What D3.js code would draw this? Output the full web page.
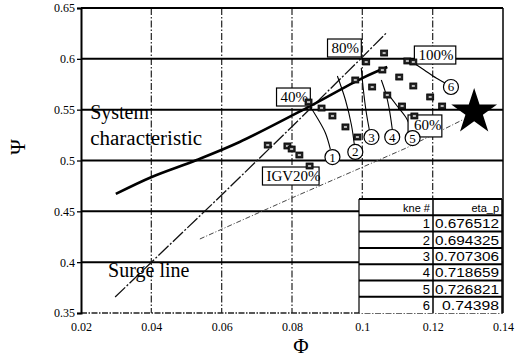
<!DOCTYPE html>
<html><head><meta charset="utf-8">
<script src="https://cdn.jsdelivr.net/npm/d3@7"></script>
<style>
body{margin:0;background:#fff;}
svg{display:block;}
</style></head>
<body>
<svg id="c" width="523" height="358"></svg>
<script>
// ---------- data ----------
const xTicks = [0.02, 0.04, 0.06, 0.08, 0.1, 0.12, 0.14];
const yTicks = [0.35, 0.4, 0.45, 0.5, 0.55, 0.6, 0.65];
const xTickLabels = ["0.02", "0.04", "0.06", "0.08", "0.1", "0.12", "0.14"];
const yTickLabels = ["0.35", "0.4", "0.45", "0.5", "0.55", "0.6", "0.65"];

const systemPhi = [0.0299, 0.0401, 0.0529, 0.0651, 0.0841, 0.1000, 0.1071];
const systemPsi = [0.4671, 0.4838, 0.5005, 0.5182, 0.5516, 0.5811, 0.5920];

const surgePhi = [0.0297, 0.0401, 0.0594, 0.0799, 0.0992, 0.1068];
const surgePsi = [0.3657, 0.4002, 0.4641, 0.5330, 0.5989, 0.6254];

const operPhi = [0.0538, 0.0799, 0.0943, 0.1125, 0.1284];
const operPsi = [0.4228, 0.4631, 0.4848, 0.5123, 0.5398];

const markerPhi = [0.0731, 0.0787, 0.0799, 0.0821, 0.0850, 0.0847, 0.0884, 0.0915, 0.0952, 0.0986,
                   0.0980, 0.1011, 0.1062, 0.1057, 0.1028, 0.1105, 0.1145, 0.1071, 0.1128, 0.1145,
                   0.1193, 0.1113, 0.1227, 0.1148];
const markerPsi = [0.5152, 0.5143, 0.5113, 0.5054, 0.4946, 0.5575, 0.5516, 0.5438, 0.5330, 0.5231,
                   0.5792, 0.5969, 0.6057, 0.5890, 0.5723, 0.5821, 0.5733, 0.5644, 0.5979, 0.5969,
                   0.5625, 0.5536, 0.5536, 0.5438];

const curvePhi = [
  [0.0847, 0.0872, 0.0895, 0.0909],
  [0.0929, 0.0952, 0.0969, 0.0977],
  [0.0997, 0.1003, 0.1011, 0.1020],
  [0.1054, 0.1068, 0.1077, 0.1085],
  [0.1071, 0.1099, 0.1125, 0.1140],
  [0.1142, 0.1176, 0.1210, 0.1235]
];
const curvePsi = [
  [0.5556, 0.5418, 0.5271, 0.5113],
  [0.5831, 0.5595, 0.5349, 0.5162],
  [0.5910, 0.5693, 0.5477, 0.5300],
  [0.5792, 0.5644, 0.5497, 0.5310],
  [0.5664, 0.5536, 0.5418, 0.5300],
  [0.5969, 0.5890, 0.5811, 0.5762]
];

const circleLabels = ["1", "2", "3", "4", "5", "6"];
const circlePhi = [0.0915, 0.0980, 0.1026, 0.1085, 0.1143, 0.1252];
const circlePsi = [0.5034, 0.5084, 0.5231, 0.5231, 0.5221, 0.5723];

const boxLabels = ["40%", "80%", "100%", "60%", "IGV20%"];
const boxPhi = [0.0756, 0.0901, 0.1148, 0.1130, 0.0716];
const boxPsi = [0.5713, 0.6195, 0.6126, 0.5448, 0.4936];

const starPhi = [0.1318];
const starPsi = [0.5477];

const tableLine = ["1", "2", "3", "4", "5", "6"];
const tableEta = ["0.676512", "0.694325", "0.707306", "0.718659", "0.726821", "0.74398"];

// ---------- chart ----------
const svg = d3.select("#c");
const L = 81, R = 503, T = 8, B = 313;
const x = d3.scaleLinear().domain([0.02, 0.14]).range([L, R]);
const y = d3.scaleLinear().domain([0.35, 0.65]).range([B, T]);
const serif = "'Liberation Serif','Times New Roman',serif";
const sans = "'Liberation Sans',Arial,sans-serif";

// vertical dash-dot grid
svg.append("g").selectAll("line").data(xTicks.slice(1, -1)).join("line")
  .attr("x1", d => x(d)).attr("x2", d => x(d)).attr("y1", T).attr("y2", B)
  .attr("stroke", "#333").attr("stroke-width", 1.3).attr("stroke-dasharray", "7,2,1.5,2");

// horizontal solid grid
svg.append("g").selectAll("line").data(yTicks.slice(1, -1)).join("line")
  .attr("x1", L).attr("x2", R).attr("y1", d => y(d)).attr("y2", d => y(d))
  .attr("stroke", "#000").attr("stroke-width", 2);

// frame
svg.append("line").attr("x1", L).attr("x2", R).attr("y1", T).attr("y2", T).attr("stroke", "#000").attr("stroke-width", 2);
svg.append("line").attr("x1", R).attr("x2", R).attr("y1", T).attr("y2", B).attr("stroke", "#000").attr("stroke-width", 1.5);
svg.append("line").attr("x1", L).attr("x2", R).attr("y1", B).attr("y2", B).attr("stroke", "#222").attr("stroke-width", 1.5).attr("stroke-dasharray", "6,1.5,1.5,1.5");

// axes
const yAxis = d3.axisLeft(y).tickValues(yTicks).tickSize(4).tickPadding(2)
  .tickFormat((d, i) => yTickLabels[i]);
const gy = svg.append("g").attr("transform", `translate(${L},0)`).call(yAxis)
  .attr("font-family", serif).attr("font-size", 12);
gy.select(".domain").attr("stroke", "#000").attr("stroke-width", 2);
gy.selectAll(".tick line").attr("stroke", "#000").attr("stroke-width", 1.3);
gy.selectAll("text").style("font-family", serif).style("font-size", "12px").attr("fill", "#000");

const xAxis = d3.axisBottom(x).tickValues(xTicks).tickSize(0).tickPadding(9)
  .tickFormat((d, i) => xTickLabels[i]);
const gx = svg.append("g").attr("transform", `translate(0,${B})`).call(xAxis)
  .attr("font-family", serif).attr("font-size", 12);
gx.select(".domain").remove();
gx.selectAll("text").style("font-family", serif).style("font-size", "12px").attr("fill", "#000");

// axis titles
svg.append("text").attr("x", 301).attr("y", 353).attr("text-anchor", "middle")
  .attr("font-family", serif).attr("font-size", 21).text("Φ");
svg.append("text").attr("transform", "translate(25,147) rotate(-90)").attr("text-anchor", "middle")
  .attr("font-family", serif).attr("font-size", 21).text("Ψ");

const line = d3.line().x(d => x(d[0])).y(d => y(d[1]));
const lineC = d3.line().x(d => x(d[0])).y(d => y(d[1])).curve(d3.curveCatmullRom);

// operating (dash-dot) line to star
svg.append("path").datum(operPhi.map((p, i) => [p, operPsi[i]]))
  .attr("d", line).attr("fill", "none").attr("stroke", "#444").attr("stroke-width", 1)
  .attr("stroke-dasharray", "5,2,1,2");

// surge line
svg.append("path").datum(surgePhi.map((p, i) => [p, surgePsi[i]]))
  .attr("d", line).attr("fill", "none").attr("stroke", "#111").attr("stroke-width", 1.3)
  .attr("stroke-dasharray", "14,2,2,2");

// system characteristic
svg.append("path").datum(systemPhi.map((p, i) => [p, systemPsi[i]]))
  .attr("d", lineC).attr("fill", "none").attr("stroke", "#000").attr("stroke-width", 2.6);

// speed curves
svg.append("g").selectAll("path").data(curvePhi.map((c, k) => c.map((p, i) => [p, curvePsi[k][i]])))
  .join("path").attr("d", lineC).attr("fill", "none").attr("stroke", "#000").attr("stroke-width", 1.1);

// label boxes
const gb = svg.append("g").selectAll("g").data(boxLabels).join("g")
  .attr("transform", (d, i) => `translate(${x(boxPhi[i])},${y(boxPsi[i])})`);
gb.append("rect").attr("x", 0).attr("y", 0)
  .attr("width", d => d.length * 7.6 + 11).attr("height", (d, i) => i === 3 ? 22 : 18)
  .attr("fill", "#fff").attr("stroke", "#000").attr("stroke-width", 1.2);
gb.append("text").attr("x", (d, i) => i === 3 ? 6 : 4).attr("y", (d, i) => i === 3 ? 15 : 14)
  .attr("font-family", serif).attr("font-size", 15).text(d => d);

// markers
const gm = svg.append("g").selectAll("g").data(markerPhi).join("g")
  .attr("transform", (d, i) => `translate(${x(d)},${y(markerPsi[i])})`);
gm.append("rect").attr("x", -3.5).attr("y", -3).attr("width", 7).attr("height", 6)
  .attr("fill", "#222").attr("stroke", "#000").attr("stroke-width", 0.8);
gm.append("rect").attr("x", -1.5).attr("y", -1).attr("width", 3).attr("height", 2)
  .attr("fill", "#bbb");

// circled numbers
const gc = svg.append("g").selectAll("g").data(circleLabels).join("g")
  .attr("transform", (d, i) => `translate(${x(circlePhi[i])},${y(circlePsi[i])})`);
gc.append("circle").attr("r", 7.5).attr("fill", "#fff").attr("stroke", "#000").attr("stroke-width", 1.2);
gc.append("text").attr("text-anchor", "middle").attr("y", 4.5)
  .attr("font-family", serif).attr("font-size", 13).text(d => d);

// star
const star = d3.symbol().type(d3.symbolStar).size(650);
svg.append("g").selectAll("path").data(starPhi).join("path")
  .attr("transform", (d, i) => `translate(${x(d)},${y(starPsi[i])})`)
  .attr("d", star).attr("fill", "#000");

// annotations
svg.append("text").attr("x", x(0.0226)).attr("y", y(0.5408))
  .attr("font-family", serif).attr("font-size", 20).text("System");
svg.append("text").attr("x", x(0.0226)).attr("y", y(0.5152))
  .attr("font-family", serif).attr("font-size", 20).attr("textLength", 112).attr("lengthAdjust", "spacingAndGlyphs").text("characteristic");
svg.append("text").attr("x", x(0.0277)).attr("y", y(0.3854))
  .attr("font-family", serif).attr("font-size", 20).text("Surge line");

// table
const tx0 = 359, tx1 = 433, tx2 = 502, ty0 = 199, rh = 16.3;
const rows = [["kne #", "eta_p"]].concat(tableLine.map((l, i) => [l, tableEta[i]]));
const gt = svg.append("g");
gt.append("rect").attr("x", tx0).attr("y", ty0).attr("width", tx2 - tx0).attr("height", rh * rows.length)
  .attr("fill", "#fff");
rows.forEach((r, i) => {
  const yy = ty0 + i * rh;
  gt.append("line").attr("x1", tx0).attr("x2", tx2).attr("y1", yy).attr("y2", yy)
    .attr("stroke", "#000").attr("stroke-width", 2);
  gt.append("text").attr("x", tx1 - 3).attr("y", yy + 13).attr("text-anchor", "end")
    .attr("font-family", sans).attr("font-size", i === 0 ? 11 : 13).text(r[0]);
  gt.append("text").attr("x", tx2 - 3).attr("y", yy + 13).attr("text-anchor", "end")
    .attr("font-family", sans).attr("font-size", i === 0 ? 11 : 13)
    .attr("textLength", i === 0 ? null : (r[1].length === 8 ? 64 : 57))
    .attr("lengthAdjust", "spacingAndGlyphs").text(r[1]);
});
gt.append("line").attr("x1", tx0).attr("x2", tx0).attr("y1", ty0).attr("y2", ty0 + rh * rows.length)
  .attr("stroke", "#000").attr("stroke-width", 1.2);
gt.append("line").attr("x1", tx1).attr("x2", tx1).attr("y1", ty0).attr("y2", ty0 + rh * rows.length)
  .attr("stroke", "#000").attr("stroke-width", 1.5);
gt.append("line").attr("x1", tx2).attr("x2", tx2).attr("y1", ty0).attr("y2", ty0 + rh * rows.length)
  .attr("stroke", "#000").attr("stroke-width", 1.5);
</script>
</body></html>
